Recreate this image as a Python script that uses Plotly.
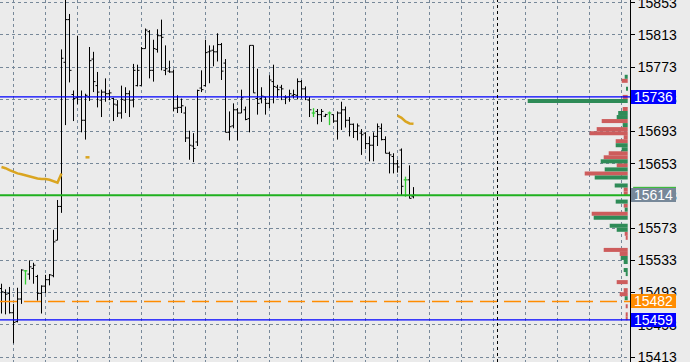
import plotly.graph_objects as go

# ---------------- price bars (index 0..103) ----------------
opens = [15498, 15493, 15492, 15468, 15457, 15485, 15520, 15516, 15523, 15513,
         15492, 15501, 15509, 15514, 15558, 15600, 15779, 15832, 15739, 15735,
         15736, 15707, 15736, 15783, 15750, 15732, 15742, 15740, 15734, 15726,
         15716, 15732, 15740, 15732, 15750, 15750, 15796, 15817, 15769, 15795,
         15812, 15769, 15768, 15767, 15722, 15723, 15716, 15685, 15675, 15680,
         15747, 15750, 15792, 15794, 15792, 15801, 15778, 15692, 15700, 15720,
         15716, 15720, 15709, 15800, 15734, 15734, 15736, 15728, 15755, 15748,
         15748, 15736, 15736, 15738, 15738, 15755, 15746, 15732, 15716, 15718,
         15714, 15712, 15716, 15714, 15706, 15716, 15720, 15707, 15702, 15693,
         15691, 15691, 15678, 15676, 15687, 15697, 15683, 15666, 15662, 15653,
         15670, 15633, 15633, 15612]
highs = [15504, 15497, 15500, 15479, 15499, 15522, 15521, 15533, 15530, 15515,
         15502, 15515, 15516, 15571, 15608, 15795, 15865, 15839, 15744, 15812,
         15744, 15740, 15798, 15792, 15767, 15745, 15759, 15745, 15735, 15732,
         15750, 15748, 15744, 15777, 15776, 15798, 15821, 15819, 15807, 15820,
         15832, 15800, 15781, 15770, 15738, 15734, 15724, 15694, 15691, 15745,
         15769, 15807, 15800, 15800, 15815, 15803, 15783, 15718, 15728, 15722,
         15745, 15724, 15800, 15800, 15771, 15748, 15736, 15763, 15776, 15751,
         15751, 15738, 15745, 15745, 15759, 15757, 15749, 15736, 15722, 15721,
         15721, 15715, 15718, 15714, 15718, 15730, 15724, 15711, 15703, 15703,
         15696, 15692, 15687, 15692, 15703, 15703, 15687, 15668, 15666, 15658,
         15672, 15637, 15651, 15624]
lows = [15467, 15466, 15467, 15430, 15456, 15479, 15503, 15509, 15504, 15483,
        15467, 15492, 15502, 15512, 15558, 15592, 15701, 15754, 15706, 15727,
        15692, 15683, 15731, 15742, 15723, 15711, 15730, 15732, 15706, 15711,
        15709, 15716, 15711, 15723, 15749, 15750, 15796, 15759, 15755, 15791,
        15769, 15763, 15766, 15718, 15716, 15716, 15680, 15658, 15655, 15675,
        15742, 15749, 15753, 15774, 15780, 15757, 15692, 15682, 15697, 15682,
        15716, 15707, 15692, 15741, 15714, 15728, 15714, 15722, 15728, 15735,
        15732, 15727, 15730, 15734, 15733, 15734, 15732, 15711, 15711, 15702,
        15705, 15711, 15701, 15704, 15683, 15695, 15698, 15687, 15685, 15682,
        15664, 15671, 15656, 15656, 15675, 15682, 15666, 15641, 15641, 15642,
        15613, 15612, 15610, 15610]
closes = [15494, 15491, 15468, 15456, 15485, 15521, 15520, 15525, 15527, 15492,
          15501, 15509, 15515, 15556, 15600, 15784, 15832, 15769, 15734, 15736,
          15707, 15738, 15781, 15755, 15742, 15742, 15740, 15741, 15727, 15716,
          15733, 15740, 15732, 15769, 15769, 15796, 15819, 15769, 15796, 15812,
          15810, 15771, 15767, 15722, 15723, 15725, 15685, 15676, 15672, 15744,
          15745, 15791, 15793, 15792, 15801, 15768, 15692, 15699, 15720, 15716,
          15735, 15708, 15800, 15741, 15728, 15737, 15728, 15757, 15749, 15745,
          15746, 15735, 15740, 15739, 15755, 15746, 15736, 15720, 15716, 15714,
          15718, 15714, 15716, 15706, 15716, 15720, 15707, 15702, 15693, 15700,
          15689, 15678, 15676, 15687, 15699, 15683, 15666, 15664, 15653, 15649,
          15625, 15633, 15610, 15614]
doji_bars = [6, 78, 82, 101]          # bars drawn in the line-graph (green) colour

# ---------------- moving-average fragments ----------------
ma1_x = [0, 1, 2, 3, 4, 5, 6, 7, 8, 9, 10, 11, 12, 13, 14, 15]
ma1_y = [15649, 15647.5, 15645, 15642.7, 15641, 15640, 15638.6, 15637.2, 15636.2,
         15634.8, 15634.1, 15634.1, 15633.1, 15631.2, 15629.6, 15641]
ma2_x = [21, 22]
ma2_y = [15661, 15661]
ma3_x = [99, 100, 101, 102, 103]
ma3_y = [15712.7, 15710.1, 15705.5, 15703.1, 15702.7]

# ---------------- volume profile ----------------
vp_red_price = [15756, 15736, 15721, 15706, 15696, 15691, 15686, 15681, 15666, 15661,
                15651, 15641, 15621, 15616, 15601, 15591, 15566, 15561, 15546, 15541,
                15506, 15496, 15491, 15476, 15466, 15461]
vp_red_vol = [6, 5, 5, 26, 31, 38, 4, 12, 19, 24,
              11, 43, 4, 4, 4, 36, 3, 2, 24, 8,
              11, 4, 8, 2, 2, 2]
vp_green_price = [15761, 15746, 15731, 15716, 15711, 15701, 15676, 15671, 15656, 15646,
                  15636, 15626, 15606, 15596, 15586, 15576, 15571, 15536, 15531, 15521,
                  15516, 15486]
vp_green_vol = [3, 1, 100, 9.5, 11, 5, 12, 6, 27, 23,
                33, 13, 12, 3, 34, 18, 11, 7, 4, 4,
                2, 3]

# ---------------- levels ----------------
blue_levels = [15736, 15459]
bid_level = 15614
orange_level = 15482
separator_bar = 124

BG = "#ebebeb"
GRID = "#778899"
Y_RANGE = [15406.8, 15856.35]
PLOT_H = 362
unit_per_px = (Y_RANGE[1] - Y_RANGE[0]) / PLOT_H

fig = go.Figure()

idx = list(range(len(opens)))
norm = [i for i in idx if i not in doji_bars]
fig.add_trace(go.Ohlc(
    x=norm,
    open=[opens[i] for i in norm], high=[highs[i] for i in norm],
    low=[lows[i] for i in norm], close=[closes[i] for i in norm],
    increasing=dict(line=dict(color="black", width=1)),
    decreasing=dict(line=dict(color="black", width=1)),
    tickwidth=0.5, hoverinfo="skip"))

dx, dy = [], []
for i in doji_bars:
    dx += [i, i, None, i - 0.45, i + 0.45, None]
    dy += [lows[i], highs[i], None, opens[i], opens[i], None]
fig.add_trace(go.Scatter(x=dx, y=dy, mode="lines",
                         line=dict(color="#32cd32", width=1.3), hoverinfo="skip"))

for mx, my in [(ma1_x, ma1_y), (ma2_x, ma2_y), (ma3_x, ma3_y)]:
    fig.add_trace(go.Scatter(x=mx, y=my, mode="lines",
                             line=dict(color="#daa520", width=2.5), hoverinfo="skip"))

fig.add_trace(go.Bar(y=vp_red_price, x=vp_red_vol, orientation="h", width=5,
                     marker=dict(color="#cd5c5c", line=dict(width=0)),
                     xaxis="x2", yaxis="y", hoverinfo="skip"))
fig.add_trace(go.Bar(y=vp_green_price, x=vp_green_vol, orientation="h", width=5,
                     marker=dict(color="#2e8b57", line=dict(width=0)),
                     xaxis="x2", yaxis="y", hoverinfo="skip"))

# horizontal level lines
for lv in blue_levels:
    fig.add_shape(type="line", xref="paper", x0=0, x1=1, yref="y", y0=lv, y1=lv,
                  line=dict(color="#0000ff", width=1.2))
fig.add_shape(type="line", xref="paper", x0=0, x1=1, yref="y", y0=bid_level, y1=bid_level,
              line=dict(color="#1fb01f", width=2))
fig.add_shape(type="line", xref="paper", x0=0, x1=1, yref="y", y0=orange_level, y1=orange_level,
              line=dict(color="#ff8c00", width=1.5, dash="17px,7px"))
fig.add_shape(type="line", xref="x", x0=separator_bar, x1=separator_bar, yref="paper", y0=0, y1=1,
              line=dict(color="black", width=1, dash="3px,3px"))

# price labels on the axis
labels = [(blue_levels[0], "#0000ff"), (bid_level, "#778899"),
          (orange_level, "#ff8c00"), (blue_levels[1], "#0000ff")]
for lv, col in labels:
    fig.add_annotation(x=1, xref="paper", xanchor="left", xshift=1,
                       y=lv, yref="y", yanchor="middle",
                       text=str(lv), showarrow=False, width=45, height=14,
                       bgcolor=col, borderpad=0, borderwidth=0,
                       font=dict(family="Liberation Sans", size=14, color="white"))
# thin green edge on top of the bid label
fig.add_shape(type="line", xref="paper", x0=1.005, x1=1.073, yref="y",
              y0=bid_level + 7.8 * unit_per_px, y1=bid_level + 7.8 * unit_per_px,
              line=dict(color="#1fb01f", width=1))

fig.update_layout(
    width=690, height=362,
    margin=dict(l=0, r=60, t=0, b=0, pad=0, autoexpand=False),
    paper_bgcolor=BG, plot_bgcolor=BG, showlegend=False,
    xaxis=dict(range=[-0.375, 157.125], tickmode="linear", tick0=3, dtick=8,
               showgrid=True, gridcolor=GRID, gridwidth=1, griddash="3px,3px",
               showticklabels=False, ticks="", zeroline=False, showline=False,
               automargin=False, rangeslider=dict(visible=False)),
    xaxis2=dict(overlaying="x", anchor="y", range=[627.7, -2.3], visible=False),
    yaxis=dict(side="right", range=Y_RANGE, tickmode="linear", automargin=False,
               tick0=15413, dtick=40, tickformat="d", ticklabeloverflow="allow",
               showgrid=True, gridcolor=GRID, gridwidth=1, griddash="3px,3px",
               ticks="outside", ticklen=4, tickcolor="black", tickwidth=1,
               showline=True, linecolor="black", linewidth=1, zeroline=False,
               tickfont=dict(family="Liberation Sans", size=14, color="black")),
)

fig.write_html("out.html")
